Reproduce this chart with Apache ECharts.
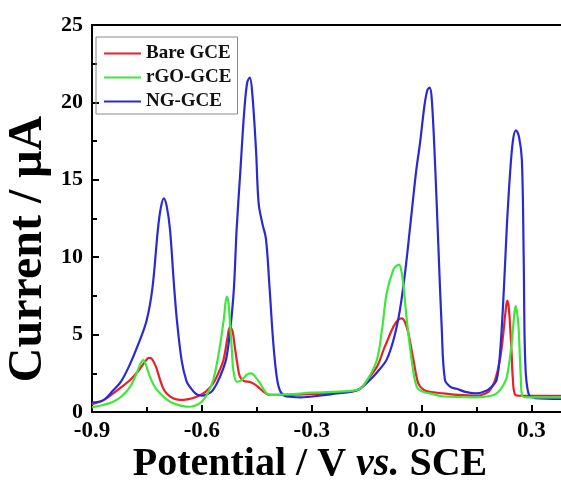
<!DOCTYPE html>
<html>
<head>
<meta charset="utf-8">
<script src="https://cdn.jsdelivr.net/npm/echarts@6/dist/echarts.min.js"></script>
<style>
html,body{margin:0;padding:0;background:#fff;}
#chart{width:561px;height:484px;}
</style>
</head>
<body>
<div id="chart"></div>
<script>
// ---- data (Potential V, Current µA) ----
var seriesNames = ['Bare GCE', 'rGO-GCE', 'NG-GCE'];
var xTickLabels = ['-0.9', '-0.6', '-0.3', '0.0', '0.3'];
var yTickLabels = ['0', '5', '10', '15', '20', '25'];

var bareV = [-0.9,-0.87,-0.842,-0.82,-0.796,-0.775,-0.755,-0.745,-0.737,-0.725,-0.714,-0.705,-0.696,-0.68,-0.66,-0.64,-0.614,-0.59,-0.569,-0.555,-0.541,-0.53,-0.523,-0.516,-0.51,-0.503,-0.496,-0.485,-0.47,-0.46,-0.448,-0.437,-0.425,-0.414,-0.38,-0.3,-0.2,-0.168,-0.141,-0.12,-0.104,-0.09,-0.077,-0.064,-0.054,-0.045,-0.036,-0.022,-0.009,0.005,0.023,0.06,0.1,0.15,0.175,0.187,0.2,0.214,0.223,0.229,0.234,0.238,0.242,0.246,0.249,0.255,0.27,0.4];
var bareI = [0.5,0.75,1.2,1.6,2.07,2.6,3.25,3.5,3.45,2.9,2.07,1.5,1.2,0.9,0.78,0.82,0.99,1.3,1.85,2.5,3.36,4.8,5.5,5.2,4.2,3.1,2.28,2.0,1.95,1.85,1.65,1.42,1.2,1.1,1.1,1.15,1.3,1.5,2.28,3.0,4.0,4.8,5.5,5.95,6.05,5.8,5.08,3.36,1.85,1.45,1.3,1.2,1.1,1.05,1.2,1.42,2.0,3.36,5.0,6.4,7.2,6.8,5.5,3.8,2.28,1.15,1.05,1.05];

var rgoV = [-0.9,-0.87,-0.842,-0.82,-0.796,-0.78,-0.768,-0.76,-0.752,-0.742,-0.728,-0.714,-0.695,-0.678,-0.655,-0.632,-0.61,-0.596,-0.582,-0.569,-0.56,-0.551,-0.54,-0.532,-0.527,-0.523,-0.518,-0.514,-0.505,-0.495,-0.487,-0.475,-0.464,-0.455,-0.441,-0.432,-0.423,-0.41,-0.35,-0.3,-0.2,-0.168,-0.145,-0.122,-0.108,-0.095,-0.077,-0.068,-0.061,-0.055,-0.05,-0.04,-0.027,-0.013,0.005,0.023,0.06,0.15,0.19,0.205,0.22,0.233,0.246,0.252,0.257,0.261,0.265,0.271,0.276,0.29,0.4];
var rgoI = [0.3,0.45,0.67,1.0,1.63,2.4,3.1,3.36,3.0,2.28,1.6,1.2,0.8,0.56,0.4,0.34,0.5,0.78,1.3,2.07,3.0,4.2,6.0,7.45,7.0,5.7,4.0,2.7,1.96,2.0,2.17,2.45,2.5,2.3,1.85,1.5,1.2,1.1,1.15,1.25,1.35,1.5,2.2,3.36,5.3,7.7,9.2,9.45,9.5,9.1,8.3,5.9,3.36,1.63,1.3,1.2,1.0,0.95,1.05,1.2,1.6,2.28,4.4,6.0,6.85,6.4,5.5,2.28,1.0,0.95,0.95];

var ngV = [-0.9,-0.87,-0.842,-0.82,-0.796,-0.775,-0.751,-0.735,-0.72,-0.712,-0.704,-0.696,-0.687,-0.677,-0.668,-0.655,-0.642,-0.632,-0.615,-0.6,-0.585,-0.57,-0.55,-0.532,-0.514,-0.505,-0.495,-0.484,-0.476,-0.469,-0.462,-0.452,-0.445,-0.435,-0.425,-0.415,-0.405,-0.395,-0.385,-0.368,-0.33,-0.28,-0.23,-0.195,-0.168,-0.141,-0.12,-0.095,-0.075,-0.059,-0.045,-0.031,-0.015,-0.004,0.008,0.016,0.022,0.028,0.037,0.046,0.055,0.064,0.08,0.096,0.12,0.151,0.175,0.19,0.205,0.215,0.225,0.233,0.242,0.25,0.258,0.266,0.274,0.279,0.283,0.292,0.31,0.4];
var ngI = [0.62,0.75,1.4,2.0,3.1,4.3,5.9,8.0,11.8,13.2,13.8,13.3,11.8,8.5,5.9,3.3,2.0,1.6,1.15,1.05,1.15,1.4,2.3,3.6,7.45,11.8,15.5,19.5,21.3,21.6,20.5,16.9,13.5,12.2,11.2,8.0,4.5,2.2,1.3,1.0,0.95,1.05,1.2,1.3,1.5,2.07,2.6,3.4,4.8,6.6,9.0,12.0,15.5,17.4,19.8,20.8,20.95,20.2,16.0,10.7,5.5,2.07,1.6,1.5,1.3,1.2,1.35,1.6,2.07,4.0,8.0,12.0,15.5,17.6,18.2,17.8,16.3,10.0,3.4,1.2,0.9,0.85];

var seriesColors = ['#e8202a', '#3ee83a', '#2a2ad2'];

function zip(a, b) { return a.map(function (v, i) { return [v, b[i]]; }); }
var seriesData = [zip(bareV, bareI), zip(rgoV, rgoI), zip(ngV, ngI)];

var FONT = '"Liberation Serif", "Times New Roman", serif';
var chart = echarts.init(document.getElementById('chart'));

var option = {
  animation: false,
  backgroundColor: '#fff',
  grid: { left: 92, top: 25, width: 476, height: 387, containLabel: false, outerBoundsMode: 'none' },
  legend: {
    orient: 'vertical',
    left: 96,
    top: 37,
    padding: [7, 6, 3, 8],
    itemGap: 5,
    itemWidth: 37,
    itemHeight: 2,
    icon: 'rect',
    borderColor: '#888',
    borderWidth: 1,
    textStyle: { fontFamily: FONT, fontWeight: 'bold', fontSize: 19, color: '#111' },
    data: seriesNames
  },
  xAxis: [{
    type: 'value',
    min: -0.9,
    max: 0.4,
    interval: 0.3,
    axisLine: { show: true, onZero: false, lineStyle: { color: '#000', width: 2 } },
    axisTick: { show: true, inside: true, length: 7, lineStyle: { color: '#000', width: 2 } },
    minorTick: { show: true, splitNumber: 2, length: 5, lineStyle: { color: '#000', width: 2 } },
    splitLine: { show: false },
    axisLabel: {
      showMaxLabel: false,
      margin: 8,
      fontFamily: FONT, fontWeight: 'bold', fontSize: 23, color: '#000',
      formatter: function (v) {
        var idx = Math.round((v + 0.9) / 0.3);
        return xTickLabels[idx] !== undefined ? xTickLabels[idx] : '';
      }
    }
  }, {
    type: 'value', position: 'top', min: -0.9, max: 0.4,
    axisLine: { show: true, onZero: false, lineStyle: { color: '#000', width: 2 } },
    axisTick: { show: false }, axisLabel: { show: false }, splitLine: { show: false }
  }],
  yAxis: {
    type: 'value',
    min: 0,
    max: 25,
    interval: 5,
    axisLine: { show: true, onZero: false, lineStyle: { color: '#000', width: 2 } },
    axisTick: { show: true, inside: true, length: 7, lineStyle: { color: '#000', width: 2 } },
    minorTick: { show: true, splitNumber: 2, length: 5, lineStyle: { color: '#000', width: 2 } },
    splitLine: { show: false },
    axisLabel: {
      margin: 9,
      fontFamily: FONT, fontWeight: 'bold', fontSize: 22, color: '#000',
      formatter: function (v) { return yTickLabels[Math.round(v / 5)]; }
    }
  },
  series: seriesNames.map(function (name, i) {
    return {
      name: name,
      type: 'line',
      data: seriesData[i],
      symbol: 'none',
      smooth: 0.35,
      color: seriesColors[i],
      lineStyle: { width: 2.2, color: seriesColors[i] },
      z: 2 + (i === 2 ? 0 : i)
    };
  }),
  graphic: [{
    type: 'text',
    x: 310, y: 465,
    style: {
      text: '{b|Potential / V }{i|vs.}{b| SCE}',
      textAlign: 'center',
      textVerticalAlign: 'middle',
      rich: {
        b: { fontFamily: FONT, fontWeight: 'bold', fontSize: 40, fill: '#000' },
        i: { fontFamily: FONT, fontWeight: 'bold', fontStyle: 'italic', fontSize: 40, fill: '#000' }
      }
    }
  }, {
    type: 'text',
    x: 29, y: 249,
    rotation: Math.PI / 2,
    style: {
      text: 'Current / μA',
      textAlign: 'center',
      textVerticalAlign: 'middle',
      font: 'bold 48px ' + FONT,
      fill: '#000'
    }
  }]
};
chart.setOption(option);
</script>
</body>
</html>
